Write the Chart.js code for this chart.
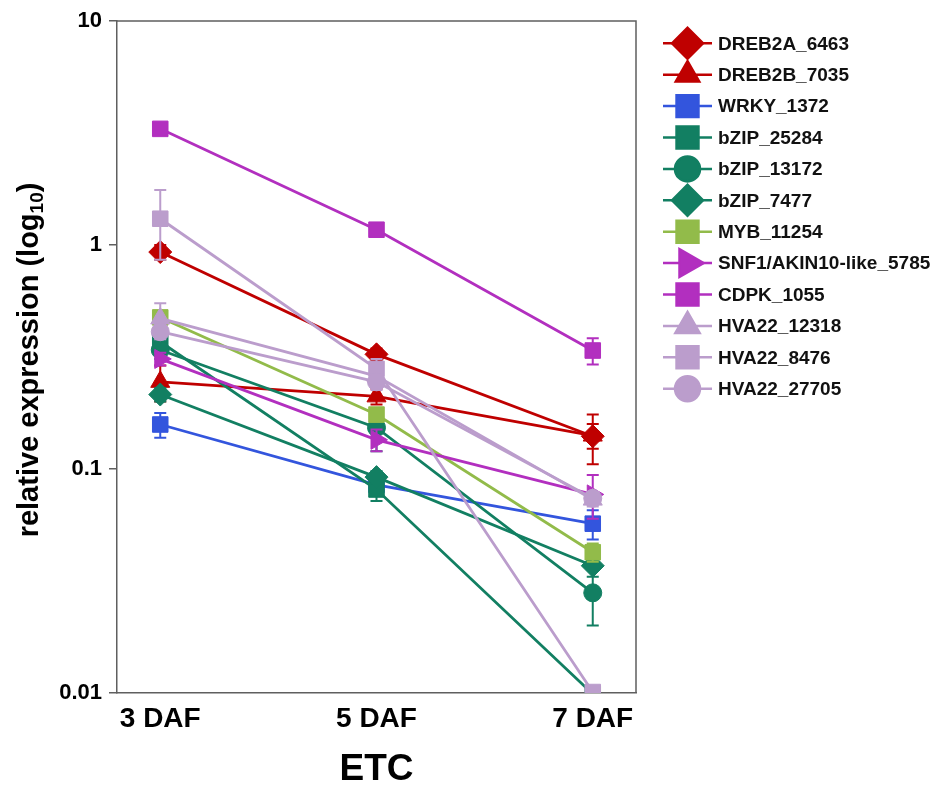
<!DOCTYPE html>
<html>
<head>
<meta charset="utf-8">
<script src="https://cdn.jsdelivr.net/npm/chart.js@4.4.1/dist/chart.umd.min.js"></script>
<style>
  html, body { margin: 0; padding: 0; background: #fff; }
  #wrap { width: 948px; height: 786px; position: relative; }
</style>
</head>
<body>
<div id="wrap"><canvas id="chart"></canvas></div>
<script>
// x categories and y tick labels
const categories = ['3 DAF', '5 DAF', '7 DAF'];
const yTicks = [0.01, 0.1, 1, 10];

// series means (relative expression) at 3, 5, 7 DAF
const dreb2a_6463 = [0.93, 0.325, 0.14];
const dreb2b_7035 = [0.245, 0.211, 0.141];
const wrky_1372 = [0.158, 0.085, 0.057];
const bzip_25284 = [0.37, 0.081, 0.0099];
const bzip_13172 = [0.34, 0.153, 0.028];
const bzip_7477 = [0.215, 0.092, 0.037];
const myb_11254 = [0.475, 0.175, 0.0425];
const snf1_5785 = [0.31, 0.135, 0.077];
const cdpk_1055 = [3.3, 1.17, 0.338];
const hva22_12318 = [0.47, 0.26, 0.073];
const hva22_8476 = [1.31, 0.28, 0.0101];
const hva22_27705 = [0.41, 0.245, 0.074];

// error bars (+/-)
const dreb2a_6463Err = [0.07, 0.02, 0.035];
const dreb2b_7035Err = [0.045, 0.017, 0.018];
const wrky_1372Err = [0.02, 0.006, 0.0085];
const bzip_25284Err = [0.03, 0.009, 0];
const bzip_13172Err = [0.03, 0.033, 0.008];
const bzip_7477Err = [0.015, 0.006, 0.004];
const myb_11254Err = [0.03, 0.012, 0.004];
const snf1_5785Err = [0.02, 0.015, 0.017];
const cdpk_1055Err = [0.1, 0.05, 0.045];
const hva22_12318Err = [0.08, 0.02, 0.005];
const hva22_8476Err = [0.45, 0.03, 0];
const hva22_27705Err = [0.03, 0.02, 0.005];

const RED = '#bf0000', BLUE = '#3355dd', TEAL = '#127f62', LIME = '#92bb4a',
      MAG = '#b22fbf', LAV = '#bb9dcc';

// r = marker radius in the plot, lr = marker radius in the legend
const series = [
  { label: 'DREB2A_6463', values: dreb2a_6463, err: dreb2a_6463Err, color: RED, style: 'rectRot', r: 11.5, lr: 15.5 },
  { label: 'DREB2B_7035', values: dreb2b_7035, err: dreb2b_7035Err, color: RED, style: 'triangle', r: 11, lr: 13.5 },
  { label: 'WRKY_1372', values: wrky_1372, err: wrky_1372Err, color: BLUE, style: 'rect', r: 11, lr: 15.5 },
  { label: 'bZIP_25284', values: bzip_25284, err: bzip_25284Err, color: TEAL, style: 'rect', r: 11, lr: 15.5 },
  { label: 'bZIP_13172', values: bzip_13172, err: bzip_13172Err, color: TEAL, style: 'circle', r: 9, lr: 12.5 },
  { label: 'bZIP_7477', values: bzip_7477, err: bzip_7477Err, color: TEAL, style: 'rectRot', r: 11.5, lr: 15.5 },
  { label: 'MYB_11254', values: myb_11254, err: myb_11254Err, color: LIME, style: 'rect', r: 11, lr: 15.5 },
  { label: 'SNF1/AKIN10-like_5785', values: snf1_5785, err: snf1_5785Err, color: MAG, style: 'triangle', rot: 90, r: 11, lr: 16 },
  { label: 'CDPK_1055', values: cdpk_1055, err: cdpk_1055Err, color: MAG, style: 'rect', r: 11, lr: 15.5 },
  { label: 'HVA22_12318', values: hva22_12318, err: hva22_12318Err, color: LAV, style: 'triangle', r: 11, lr: 14 },
  { label: 'HVA22_8476', values: hva22_8476, err: hva22_8476Err, color: LAV, style: 'rect', r: 11, lr: 15.5 },
  { label: 'HVA22_27705', values: hva22_27705, err: hva22_27705Err, color: LAV, style: 'circle', r: 9, lr: 12.5 }
];

const FONT = "'Liberation Sans', Arial, sans-serif";
const AXIS = '#5f5f5f';

// error bars drawn just before each dataset so its markers sit on top
const errorBars = {
  id: 'errorBars',
  beforeDatasetDraw(chart, args) {
    const ds = chart.data.datasets[args.index];
    const y = chart.scales.y;
    const ctx = chart.ctx;
    const area = chart.chartArea;
    ctx.save();
    ctx.beginPath();
    ctx.rect(area.left, area.top, area.right - area.left, area.bottom - area.top);
    ctx.clip();
    ctx.strokeStyle = ds.borderColor;
    ctx.lineWidth = 2;
    args.meta.data.forEach((pt, i) => {
      const v = ds.data[i].y, e = ds.errors[i];
      if (!e) return;
      const yt = y.getPixelForValue(v + e);
      const yb = y.getPixelForValue(Math.max(v - e, 1e-4));
      ctx.beginPath();
      ctx.moveTo(pt.x, yt); ctx.lineTo(pt.x, yb);
      ctx.moveTo(pt.x - 6, yt); ctx.lineTo(pt.x + 6, yt);
      ctx.moveTo(pt.x - 6, yb); ctx.lineTo(pt.x + 6, yb);
      ctx.stroke();
    });
    ctx.restore();
  }
};

// top and right edges of the frame
const frame = {
  id: 'frame',
  beforeDatasetsDraw(chart) {
    const { ctx, chartArea: a } = chart;
    ctx.save();
    ctx.strokeStyle = AXIS;
    ctx.lineWidth = 1.5;
    ctx.beginPath();
    ctx.moveTo(a.left, a.top);
    ctx.lineTo(a.right, a.top);
    ctx.lineTo(a.right, a.bottom);
    ctx.stroke();
    ctx.restore();
  }
};

// axis titles and the legend
const extras = {
  id: 'extras',
  afterDraw(chart) {
    const ctx = chart.ctx;
    ctx.save();
    // y title with subscript
    ctx.translate(30, 360);
    ctx.rotate(-Math.PI / 2);
    ctx.fillStyle = '#000';
    ctx.textBaseline = 'middle';
    ctx.textAlign = 'left';
    const mainFont = 'bold 29px ' + FONT, subFont = 'bold 19px ' + FONT;
    const t1 = 'relative expression (log', t2 = '10', t3 = ')';
    ctx.font = mainFont; const w1 = ctx.measureText(t1).width, w3 = ctx.measureText(t3).width;
    ctx.font = subFont; const w2 = ctx.measureText(t2).width;
    let x = -(w1 + w2 + w3) / 2;
    ctx.font = mainFont; ctx.fillText(t1, x, 0); x += w1;
    ctx.font = subFont; ctx.fillText(t2, x, 8); x += w2;
    ctx.font = mainFont; ctx.fillText(t3, x, 0);
    ctx.restore();

    // x title
    ctx.save();
    ctx.fillStyle = '#000';
    ctx.font = 'bold 37px ' + FONT;
    ctx.textAlign = 'center';
    ctx.textBaseline = 'middle';
    ctx.fillText('ETC', (chart.chartArea.left + chart.chartArea.right) / 2, 770);
    ctx.restore();

    // legend
    ctx.save();
    series.forEach((s, i) => {
      const ly = 43.3 + i * 31.4;
      ctx.strokeStyle = s.color;
      ctx.lineWidth = 2.5;
      ctx.beginPath();
      ctx.moveTo(663, ly); ctx.lineTo(712, ly);
      ctx.stroke();
      ctx.fillStyle = s.color;
      Chart.helpers.drawPoint(ctx, { pointStyle: s.style, rotation: s.rot || 0, radius: s.lr, borderWidth: 1 }, 687.5, ly);
      ctx.fillStyle = '#111';
      ctx.font = 'bold 19px ' + FONT;
      ctx.textAlign = 'left';
      ctx.textBaseline = 'middle';
      ctx.fillText(s.label, 718, ly + 1);
    });
    ctx.restore();
  }
};

const n = series.length;
const datasets = series.map((s, i) => ({
  label: s.label,
  data: s.values.map((v, k) => ({ x: k, y: v })),
  errors: s.err,
  borderColor: s.color,
  backgroundColor: s.color,
  borderWidth: 2.8,
  pointStyle: s.style,
  pointRotation: s.rot || 0,
  pointRadius: s.r,
  pointBorderWidth: 1,
  pointHoverRadius: s.r,
  tension: 0,
  order: n - i
}));

new Chart(document.getElementById('chart'), {
  type: 'line',
  data: { datasets },
  options: {
    responsive: true,
    maintainAspectRatio: false,
    animation: false,
    layout: { padding: { left: 0, top: 21, right: 312, bottom: 0 } },
    plugins: { legend: { display: false }, tooltip: { enabled: false } },
    scales: {
      x: {
        type: 'linear',
        min: -0.2,
        max: 2.2,
        afterBuildTicks: (scale) => { scale.ticks = categories.map((c, i) => ({ value: i })); },
        afterFit: (scale) => { scale.height = 93; },
        ticks: {
          callback: (v) => categories[v] ?? '',
          font: { family: FONT, size: 28, weight: 'bold' },
          color: '#000',
          padding: 9,
          maxRotation: 0
        },
        grid: { display: false, drawTicks: false },
        border: { display: true, color: AXIS, width: 1.5 }
      },
      y: {
        type: 'logarithmic',
        min: 0.01,
        max: 10,
        afterBuildTicks: (scale) => { scale.ticks = yTicks.map((v) => ({ value: v })); },
        afterFit: (scale) => { scale.width = 117; },
        ticks: {
          callback: (v) => String(v),
          font: { family: FONT, size: 22, weight: 'bold' },
          color: '#000',
          padding: 7
        },
        grid: { display: true, drawOnChartArea: false, drawTicks: true, tickLength: 8, color: AXIS, lineWidth: 1.5 },
        border: { display: true, color: AXIS, width: 1.5 }
      }
    }
  },
  plugins: [errorBars, frame, extras]
});
</script>
</body>
</html>
